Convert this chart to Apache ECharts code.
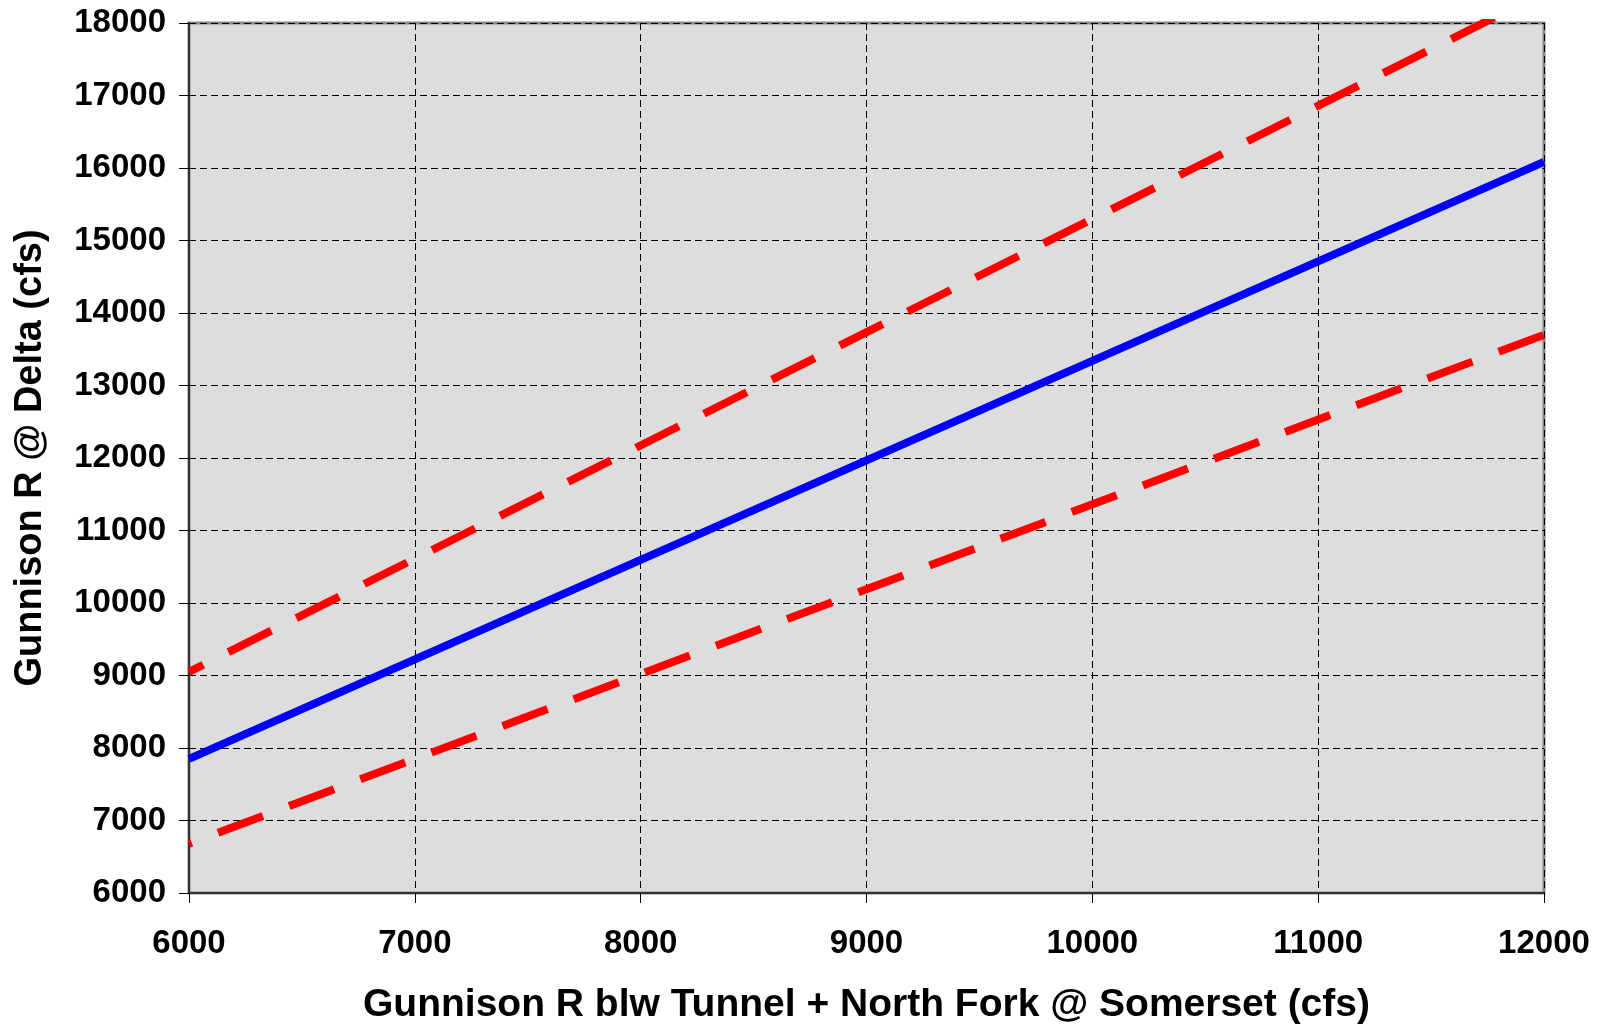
<!DOCTYPE html>
<html>
<head>
<meta charset="utf-8">
<script src="https://cdn.jsdelivr.net/npm/echarts@6/dist/echarts.min.js"></script>
<style>
html,body{margin:0;padding:0;background:#fff;}
#chart{width:1612px;height:1028px;}
</style>
</head>
<body>
<div id="chart"></div>
<script>
// Data
const xValues = [6000, 12000];
const predicted = [7850, 16085];
const upperBound = [9050, 18420];
const lowerBound = [6680, 13700];
const xTicks = [6000, 7000, 8000, 9000, 10000, 11000, 12000];
const yTicks = [6000, 7000, 8000, 9000, 10000, 11000, 12000, 13000, 14000, 15000, 16000, 17000, 18000];

const font = 'Liberation Sans, Arial, sans-serif';
const pairs = ys => xValues.map((x, i) => [x, ys[i]]);
const plain = v => String(v);

const chart = echarts.init(document.getElementById('chart'), null, {renderer: 'canvas'});
chart.setOption({
  animation: false,
  backgroundColor: '#ffffff',
  grid: {
    left: 189, right: 68, top: 23, bottom: 135,
    outerBoundsMode: 'none', containLabel: false,
    show: true, backgroundColor: '#DDDDDD', borderColor: '#888888', borderWidth: 3
  },
  xAxis: {
    type: 'value', min: xTicks[0], max: xTicks[xTicks.length - 1], interval: 1000,
    name: 'Gunnison R blw Tunnel + North Fork @ Somerset (cfs)',
    nameLocation: 'middle', nameGap: 93,
    nameTextStyle: {fontFamily: font, fontWeight: 'bold', fontSize: 39, color: '#000'},
    axisLine: {show: true, onZero: false, lineStyle: {color: '#333333', width: 2}},
    axisTick: {show: true, length: 10, inside: false, lineStyle: {color: '#000', width: 1}},
    axisLabel: {fontFamily: font, fontWeight: 'bold', fontSize: 33, color: '#000', margin: 34, formatter: plain},
    splitLine: {show: true, lineStyle: {color: '#000', width: 1, type: [7, 4]}}
  },
  yAxis: {
    type: 'value', min: yTicks[0], max: yTicks[yTicks.length - 1], interval: 1000,
    name: 'Gunnison R @ Delta (cfs)',
    nameLocation: 'middle', nameGap: 139, nameRotate: 90,
    nameTextStyle: {fontFamily: font, fontWeight: 'bold', fontSize: 38, color: '#000'},
    axisLine: {show: true, onZero: false, lineStyle: {color: '#333333', width: 2}},
    axisTick: {show: true, length: 10, inside: false, lineStyle: {color: '#000', width: 1}},
    axisLabel: {fontFamily: font, fontWeight: 'bold', fontSize: 33, color: '#000', margin: 23, formatter: plain},
    splitLine: {show: true, lineStyle: {color: '#000', width: 1, type: [7, 4]}}
  },
  series: [
    {
      name: 'Upper', type: 'line', data: pairs(upperBound), showSymbol: false, clip: true,
      lineStyle: {color: '#FF0000', width: 8, type: [48, 28], dashOffset: 32, cap: 'butt'}
    },
    {
      name: 'Predicted', type: 'line', data: pairs(predicted), showSymbol: false, clip: true,
      lineStyle: {color: '#0000FF', width: 8, type: 'solid'}
    },
    {
      name: 'Lower', type: 'line', data: pairs(lowerBound), showSymbol: false, clip: true,
      lineStyle: {color: '#FF0000', width: 8, type: [48, 28], dashOffset: 45, cap: 'butt'}
    }
  ]
});
</script>
</body>
</html>
